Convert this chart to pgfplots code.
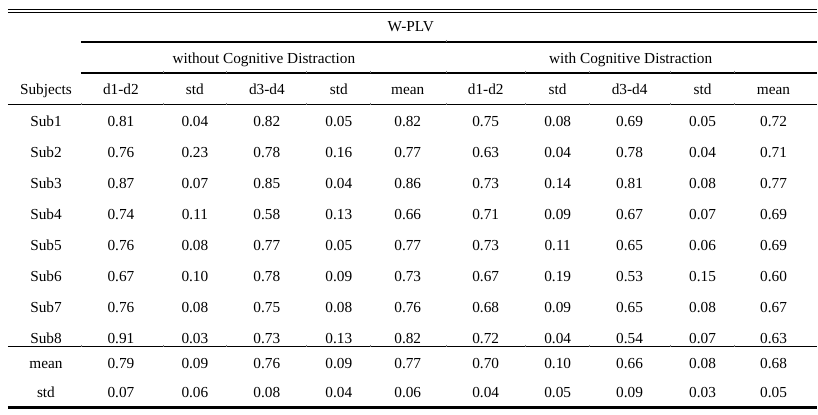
\documentclass[border=0pt]{standalone}
\usepackage{pgfplots}
\usepackage{pgfplotstable}
\pgfplotsset{compat=1.18}
\usepackage{fontspec}
\setmainfont{Liberation Serif}

\pgfplotstableread[col sep=comma]{
s,y,a,b,c,d,e,f,g,h,i,j
Subjects,90,d1-d2,std,d3-d4,std,mean,d1-d2,std,d3-d4,std,mean
Sub1,121.5,0.81,0.04,0.82,0.05,0.82,0.75,0.08,0.69,0.05,0.72
Sub2,152.5,0.76,0.23,0.78,0.16,0.77,0.63,0.04,0.78,0.04,0.71
Sub3,183.5,0.87,0.07,0.85,0.04,0.86,0.73,0.14,0.81,0.08,0.77
Sub4,214.5,0.74,0.11,0.58,0.13,0.66,0.71,0.09,0.67,0.07,0.69
Sub5,245.5,0.76,0.08,0.77,0.05,0.77,0.73,0.11,0.65,0.06,0.69
Sub6,276.5,0.67,0.10,0.78,0.09,0.73,0.67,0.19,0.53,0.15,0.60
Sub7,307.5,0.76,0.08,0.75,0.08,0.76,0.68,0.09,0.65,0.08,0.67
Sub8,338.5,0.91,0.03,0.73,0.13,0.82,0.72,0.04,0.54,0.07,0.63
mean,364,0.79,0.09,0.76,0.09,0.77,0.70,0.10,0.66,0.08,0.68
std,393,0.07,0.06,0.08,0.04,0.06,0.04,0.05,0.09,0.03,0.05
}\tbl

\pgfplotstableread[col sep=comma]{
x,y,t
411,27,W-PLV
264,59,without Cognitive Distraction
631,59,with Cognitive Distraction
}\grp

\pgfplotsset{
  cell/.style={draw=none, mark=none, nodes near coords, point meta=explicit symbolic,
    nodes near coords style={anchor=center, inner sep=0pt, text height=0.68em, text depth=0pt,
      yshift=-1.6bp, font=\fontsize{15.3bp}{17bp}\selectfont, text=black}},
}

\begin{document}
\begin{tikzpicture}
\begin{axis}[
  scale only axis, width=818bp, height=415bp,
  xmin=0, xmax=818, ymin=0, ymax=415, y dir=reverse,
  hide axis, clip=false,
]
\path (axis cs:0,0) rectangle (axis cs:818,415);
% rules
\draw[line width=1.1bp] (axis cs:8,9.5) -- (axis cs:817,9.5);
\draw[line width=1.1bp] (axis cs:8,12.5) -- (axis cs:817,12.5);
\draw[line width=1.1bp] (axis cs:81,42) -- (axis cs:817,42);
\draw[line width=1.1bp] (axis cs:81,73) -- (axis cs:817,73);
\draw[line width=1.1bp] (axis cs:8,105) -- (axis cs:817,105);
\draw[line width=1.1bp] (axis cs:8,347) -- (axis cs:817,347);
\draw[line width=3bp] (axis cs:8,408) -- (axis cs:817,408);
% small border remnants
\pgfplotsinvokeforeach{163,227,307,371,447,526,590,671,735}{
  \draw[line width=0.8bp, gray] (axis cs:#1,71) -- (axis cs:#1,73);
  \draw[line width=0.8bp, gray] (axis cs:#1,345) -- (axis cs:#1,347);
}
\pgfplotsinvokeforeach{81,163,227,307,371,447,526,590,671,735}{
  \draw[line width=0.8bp, gray] (axis cs:#1,103) -- (axis cs:#1,105);
}
\draw[line width=0.8bp, gray] (axis cs:447,40) -- (axis cs:447,42);
\draw[line width=0.8bp, gray] (axis cs:81,345) -- (axis cs:81,347);
% text
\addplot[cell] table[x=x, y=y, meta=t] {\grp};
\addplot[cell] table[x expr=46,  y=y, meta=s] {\tbl};
\addplot[cell] table[x expr=121, y=y, meta=a] {\tbl};
\addplot[cell] table[x expr=195, y=y, meta=b] {\tbl};
\addplot[cell] table[x expr=267, y=y, meta=c] {\tbl};
\addplot[cell] table[x expr=339, y=y, meta=d] {\tbl};
\addplot[cell] table[x expr=408, y=y, meta=e] {\tbl};
\addplot[cell] table[x expr=486, y=y, meta=f] {\tbl};
\addplot[cell] table[x expr=558, y=y, meta=g] {\tbl};
\addplot[cell] table[x expr=630, y=y, meta=h] {\tbl};
\addplot[cell] table[x expr=703, y=y, meta=i] {\tbl};
\addplot[cell] table[x expr=774, y=y, meta=j] {\tbl};
\end{axis}
\end{tikzpicture}
\end{document}
